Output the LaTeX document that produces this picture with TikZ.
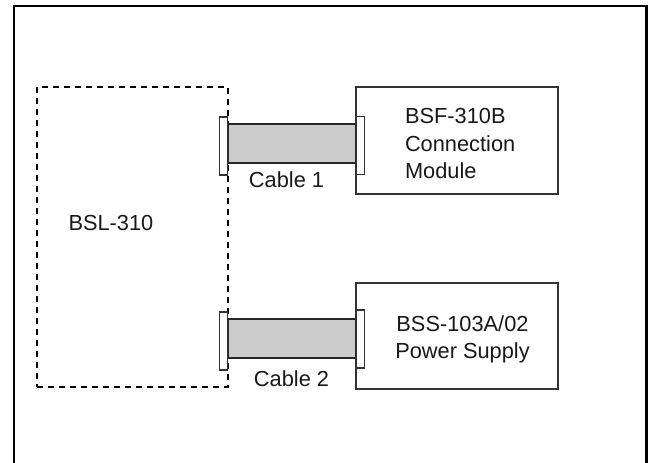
\documentclass[tikz,border=0pt]{standalone}
\usepackage{fontspec}
\setmainfont{Liberation Sans}
\begin{document}
\begin{tikzpicture}[x=0.75pt,y=-0.75pt,
  every node/.style={outer sep=0pt,inner sep=0pt},
  frame/.style={draw=black,line width=2.1pt,minimum width=474.4pt,minimum height=360pt},
  dashbox/.style={draw=black,line width=1.1pt,dash pattern=on 4.5pt off 3.75pt,minimum width=143.25pt,minimum height=225pt},
  modbox/.style={draw=black!80,line width=0.8pt,fill=white,minimum width=151.5pt},
  plate/.style={draw=black!80,line width=0.9pt,fill=white,minimum width=6.4pt,minimum height=43.5pt},
  cablebox/.style={draw=black!85,line width=1pt,fill=black!20,minimum width=96pt,minimum height=29.25pt},
  lbl/.style={font=\fontsize{16.35pt}{20.4pt}\selectfont,text=black!90}]
\useasboundingbox (0,0) rectangle (652,463);
\clip (0,0) rectangle (652,463);
\node[frame] (outer) at (330.2,246) {};
\node[dashbox] (bsl) at (132.5,237) {};
\node[modbox,minimum height=80.25pt] (bsf) at (457,140.5) {};
\node[modbox,minimum height=79.5pt] (bss) at (457,336) {};
\node[cablebox] (c1) at (292,143.5) {};
\node[cablebox] (c2) at (292,338.5) {};
\node[plate] (p1l) at (223.5,146) {};
\node[plate] (p1r) at (360.5,145.5) {};
\node[plate] (p2l) at (223.5,341) {};
\node[plate] (p2r) at (360.5,339) {};
\node[lbl,anchor=base west] (t0) at (68.5,230) {BSL-310};
\node[lbl,anchor=base] (t1) at (286.5,188) {Cable 1};
\node[lbl,anchor=base] (t2) at (291.5,386) {Cable 2};
\node[lbl,anchor=base west] (t3a) at (405,124) {BSF-310B};
\node[lbl,anchor=base west] (t3b) at (405,152) {Connection};
\node[lbl,anchor=base west] (t3c) at (405,179) {Module};
\node[lbl,anchor=base] (t4a) at (462.5,331) {BSS-103A/02};
\node[lbl,anchor=base] (t4b) at (462.5,358) {Power Supply};
\end{tikzpicture}
\end{document}
